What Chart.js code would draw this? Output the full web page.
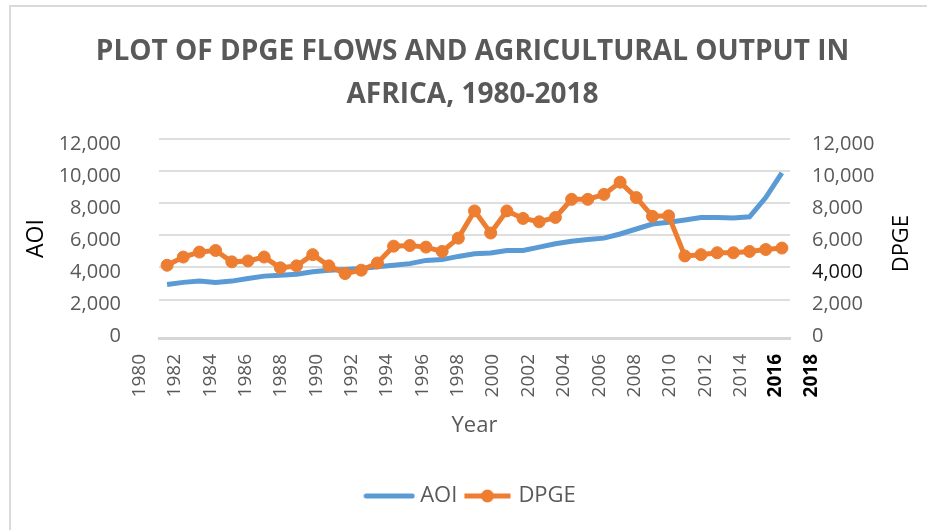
<!DOCTYPE html>
<html lang="en">
<head>
  <meta charset="UTF-8">
  <title>DPGE flows and agricultural output in Africa</title>
  <script src="https://cdn.jsdelivr.net/npm/chart.js"></script>
  <style>
    body { margin: 0; background: #ffffff; }
    #wrap { position: relative; width: 927px; height: 530px; }
    #frame { position: absolute; left: 9px; top: 5px; right: 0; bottom: 0; border-top: 2px solid #dadada; border-left: 2px solid #dadada; pointer-events: none; }
  </style>
</head>
<body>

<div id="wrap">
  <canvas id="myChart" width="927" height="530"></canvas>
  <div id="frame"></div>
</div>

<script>
const years = [1980, 1981, 1982, 1983, 1984, 1985, 1986, 1987, 1988, 1989,
               1990, 1991, 1992, 1993, 1994, 1995, 1996, 1997, 1998, 1999,
               2000, 2001, 2002, 2003, 2004, 2005, 2006, 2007, 2008, 2009,
               2010, 2011, 2012, 2013, 2014, 2015, 2016, 2017, 2018];

const aoi = [2940, 3070, 3150, 3070, 3150, 3310, 3460, 3520, 3580, 3730,
             3830, 3870, 3930, 4040, 4140, 4240, 4440, 4490, 4690, 4860,
             4900, 5060, 5060, 5270, 5480, 5640, 5740, 5830, 6090, 6400,
             6710, 6820, 6960, 7120, 7120, 7080, 7160, 8360, 9900];

const dpge = [4140, 4650, 4960, 5060, 4350, 4410, 4650, 3980, 4100, 4800,
              4100, 3620, 3830, 4280, 5330, 5370, 5270, 5000, 5830, 7530,
              6150, 7530, 7060, 6850, 7120, 8250, 8250, 8560, 9320, 8360,
              7190, 7220, 4720, 4800, 4920, 4920, 5000, 5120, 5210];

const yearTicks = [1980, 1982, 1984, 1986, 1988, 1990, 1992, 1994, 1996, 1998,
                   2000, 2002, 2004, 2006, 2008, 2010, 2012, 2014, 2016, 2018];
const valueTicks = [0, 2000, 4000, 6000, 8000, 10000, 12000];

const BLUE = '#5b9bd5';
const ORANGE = '#ed7d31';
const GREY = '#595959';

Chart.defaults.font.family = "'Open Sans', sans-serif";

// little line samples for the legend (the orange one carries its marker)
function legendSample(color, withDot) {
  const c = document.createElement('canvas');
  c.width = 52; c.height = 16;
  const g = c.getContext('2d');
  g.strokeStyle = color;
  g.lineWidth = 5;
  g.lineCap = withDot ? 'butt' : 'round';
  g.beginPath(); g.moveTo(3, 8); g.lineTo(49, 8); g.stroke();
  if (withDot) {
    g.fillStyle = color;
    g.beginPath(); g.arc(26, 8, 6.5, 0, Math.PI * 2); g.fill();
  }
  return c;
}
const samples = [legendSample(BLUE, false), legendSample(ORANGE, true)];

function fmt(v) { return Number(v).toLocaleString('en-US'); }

// secondary axis title reads bottom-to-top like the primary one
const rightTitle = {
  id: 'rightTitle',
  afterDraw(chart) {
    const s = chart.scales.y2;
    const ctx = chart.ctx;
    ctx.save();
    ctx.translate(s.right - 20, (s.top + s.bottom) / 2 + 5);
    ctx.rotate(-Math.PI / 2);
    ctx.font = "22px 'Open Sans', sans-serif";
    ctx.fillStyle = '#000000';
    ctx.textAlign = 'center';
    ctx.textBaseline = 'middle';
    ctx.fillText('DPGE', 0, 0);
    ctx.restore();
  }
};

function valueAxis(position) {
  return {
    position: position,
    min: -400,
    max: 12000,
    afterBuildTicks: s => { s.ticks = valueTicks.map(v => ({ value: v })); },
    afterFit: s => { s.width = position === 'left' ? 136 : 132; },
    grid: {
      display: position === 'left',
      drawTicks: false,
      lineWidth: 2,
      color: ctx => (ctx.tick && ctx.tick.value === 0) ? 'rgba(0,0,0,0)' : '#dedede'
    },
    border: { display: false },
    ticks: {
      padding: position === 'left' ? 38 : 22,
      labelOffset: 5,
      color: ctx => (position === 'right' && ctx.tick && ctx.tick.value === 4000) ? '#111111' : GREY,
      font: { size: 20 },
      callback: fmt
    },
    title: {
      display: position === 'left',
      text: 'AOI',
      color: '#000000',
      font: { size: 23 },
      padding: 0
    }
  };
}

const ctx = document.getElementById('myChart').getContext('2d');
new Chart(ctx, {
  type: 'line',
  data: {
    labels: years,
    datasets: [
      {
        label: 'AOI',
        data: aoi,
        yAxisID: 'y',
        borderColor: BLUE,
        backgroundColor: BLUE,
        borderWidth: 5,
        pointRadius: 0,
        tension: 0,
        order: 1
      },
      {
        label: 'DPGE',
        data: dpge,
        yAxisID: 'y2',
        borderColor: ORANGE,
        backgroundColor: ORANGE,
        borderWidth: 5,
        pointRadius: 6,
        pointBorderWidth: 1,
        pointBackgroundColor: ORANGE,
        pointBorderColor: ORANGE,
        tension: 0,
        order: 0
      }
    ]
  },
  options: {
    responsive: false,
    animation: false,
    layout: { padding: { left: 23, right: 5, top: 10, bottom: 13 } },
    scales: {
      x: {
        type: 'category',
        display: false,
        offset: true
      },
      // year labels run on their own spacing along the bottom
      xl: {
        type: 'linear',
        position: 'bottom',
        min: 1981.1,
        max: 2016.8,
        afterBuildTicks: s => { s.ticks = yearTicks.map(v => ({ value: v })); },
        afterFit: s => { s.height = 137; },
        grid: { display: false, drawTicks: false },
        border: { display: true, color: '#d6d6d6', width: 3 },
        ticks: {
          autoSkip: false,
          minRotation: 90,
          maxRotation: 90,
          padding: 16,
          color: ctx => (ctx.tick && ctx.tick.value >= 2016) ? '#000000' : GREY,
          font: ctx => (ctx.tick && ctx.tick.value >= 2016) ? { size: 19, weight: 'bold' } : { size: 19 },
          callback: v => String(v)
        },
        title: {
          display: true,
          text: 'Year',
          color: GREY,
          font: { size: 22 },
          padding: { top: 0, bottom: 36 }
        }
      },
      y: valueAxis('left'),
      y2: valueAxis('right')
    },
    plugins: {
      title: {
        display: true,
        text: ['PLOT OF DPGE FLOWS AND AGRICULTURAL OUTPUT IN', 'AFRICA, 1980-2018'],
        color: GREY,
        font: { size: 28, weight: 'bold', lineHeight: 1.54 },
        padding: { top: 20, bottom: 23 }
      },
      legend: {
        position: 'bottom',
        labels: {
          color: GREY,
          font: { size: 22 },
          usePointStyle: true,
          pointStyleWidth: 40,
          padding: 10,
          sort: (a, b) => a.datasetIndex - b.datasetIndex,
          generateLabels: chart => {
            const items = Chart.defaults.plugins.legend.labels.generateLabels(chart);
            items.forEach(it => { it.pointStyle = samples[it.datasetIndex]; });
            return items;
          }
        }
      },
      tooltip: { enabled: false }
    }
  },
  plugins: [rightTitle]
});
</script>

</body>
</html>
